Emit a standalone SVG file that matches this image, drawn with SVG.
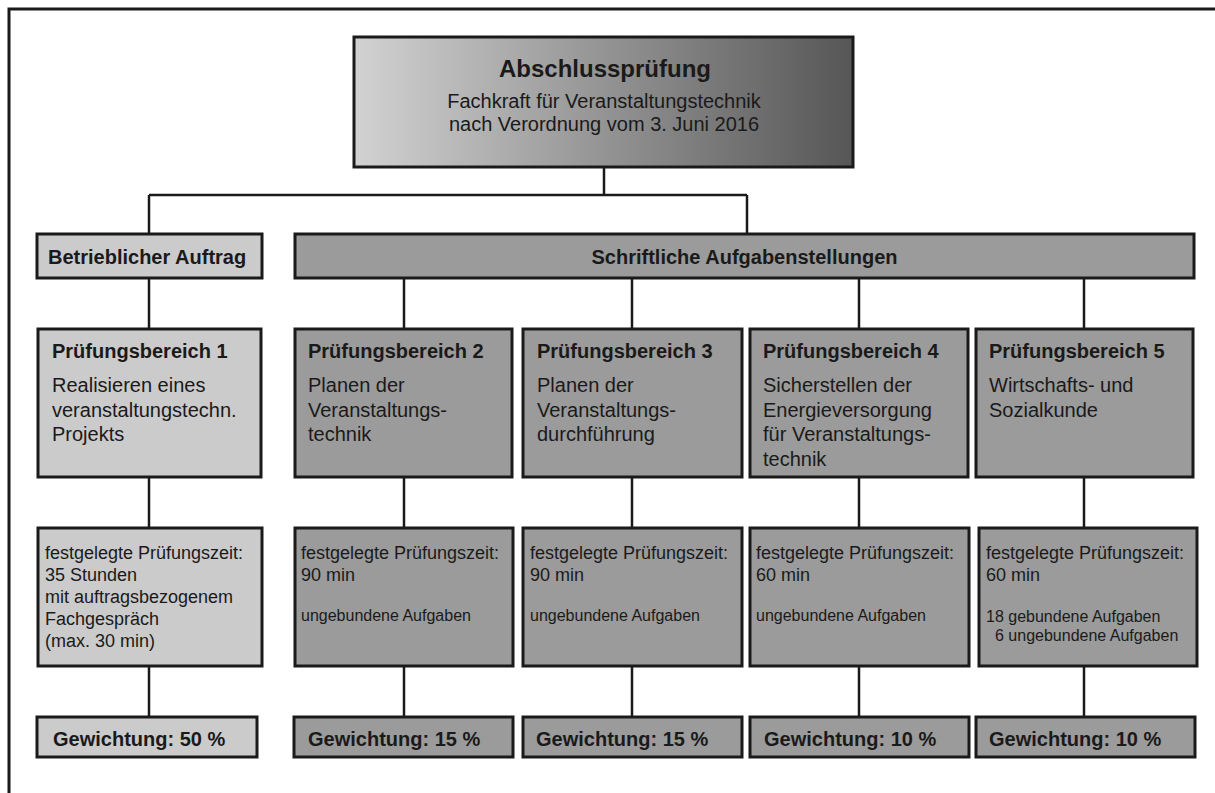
<svg xmlns="http://www.w3.org/2000/svg" width="1215" height="793" viewBox="0 0 1215 793">
<defs>
<linearGradient id="gTitle" x1="0" y1="0" x2="1" y2="0">
<stop offset="0" stop-color="#d2d2d2"/>
<stop offset="1" stop-color="#565656"/>
</linearGradient>
<style>
text{font-family:"Liberation Sans",Arial,Helvetica,sans-serif;fill:#1a1a1a}
.box{stroke:#1a1a1a;stroke-width:3}
.light{fill:#cbcbcb}
.dark{fill:#9b9b9b}
.h{font-weight:bold;font-size:20px}
.b{font-size:20px}
.t{font-size:18px}
.s{font-size:16px}
.mid{text-anchor:middle}
.con{stroke:#1a1a1a;stroke-width:2.5;fill:none}
</style>
</defs>
<rect width="1215" height="793" fill="#fff"/>
<path id="frame" d="M9 793 V9 H1215" fill="none" stroke="#1a1a1a" stroke-width="3"/>

<g id="connectors" class="con">
<path d="M604 167 V195"/>
<path d="M149 195 H747"/>
<path d="M149 195 V234"/>
<path d="M747 195 V234"/>
<path d="M149 278 V329"/>
<path d="M404 278 V329"/>
<path d="M632 278 V329"/>
<path d="M859 278 V329"/>
<path d="M1084 278 V329"/>
<path d="M149 477 V528"/>
<path d="M404 477 V528"/>
<path d="M632 477 V528"/>
<path d="M859 477 V528"/>
<path d="M1084 477 V528"/>
<path d="M149 666 V717"/>
<path d="M404 666 V717"/>
<path d="M632 666 V717"/>
<path d="M859 666 V717"/>
<path d="M1084 666 V717"/>
</g>

<g id="title">
<rect class="box" x="354" y="37" width="499" height="130" fill="url(#gTitle)"/>
<text class="mid" x="605" y="77" font-weight="bold" font-size="24">Abschlussprüfung</text>
<text class="mid b" x="604" y="108">Fachkraft für Veranstaltungstechnik</text>
<text class="mid b" x="604" y="131">nach Verordnung vom 3. Juni 2016</text>
</g>

<g id="betrieblich">
<rect class="box light" x="37" y="234" width="225" height="44"/>
<text class="h" x="48" y="264">Betrieblicher Auftrag</text>
</g>

<g id="schriftlich">
<rect class="box dark" x="295" y="234" width="899" height="44"/>
<text class="h mid" x="744.5" y="264">Schriftliche Aufgabenstellungen</text>
</g>

<g id="pb1">
<rect class="box light" x="38" y="329" width="223" height="148"/>
<text class="h" x="52" y="358">Prüfungsbereich 1</text>
<text class="b" x="52" y="392">Realisieren eines</text>
<text class="b" x="52" y="416.5">veranstaltungstechn.</text>
<text class="b" x="52" y="441">Projekts</text>
</g>

<g id="pb2">
<rect class="box dark" x="295" y="329" width="217" height="148"/>
<text class="h" x="308" y="358">Prüfungsbereich 2</text>
<text class="b" x="308" y="392">Planen der</text>
<text class="b" x="308" y="416.5">Veranstaltungs-</text>
<text class="b" x="308" y="441">technik</text>
</g>

<g id="pb3">
<rect class="box dark" x="523" y="329" width="219" height="148"/>
<text class="h" x="537" y="358">Prüfungsbereich 3</text>
<text class="b" x="537" y="392">Planen der</text>
<text class="b" x="537" y="416.5">Veranstaltungs-</text>
<text class="b" x="537" y="441">durchführung</text>
</g>

<g id="pb4">
<rect class="box dark" x="750" y="329" width="218" height="148"/>
<text class="h" x="763" y="358">Prüfungsbereich 4</text>
<text class="b" x="763" y="392">Sicherstellen der</text>
<text class="b" x="763" y="416.5">Energieversorgung</text>
<text class="b" x="763" y="441">für Veranstaltungs-</text>
<text class="b" x="763" y="465.5">technik</text>
</g>

<g id="pb5">
<rect class="box dark" x="976" y="329" width="217" height="148"/>
<text class="h" x="989" y="358">Prüfungsbereich 5</text>
<text class="b" x="989" y="392">Wirtschafts- und</text>
<text class="b" x="989" y="416.5">Sozialkunde</text>
</g>

<g id="zeit1">
<rect class="box light" x="38" y="528" width="224" height="138"/>
<text class="t" x="45" y="559">festgelegte Prüfungszeit:</text>
<text class="t" x="45" y="581">35 Stunden</text>
<text class="t" x="45" y="603">mit auftragsbezogenem</text>
<text class="t" x="45" y="625">Fachgespräch</text>
<text class="t" x="45" y="647">(max. 30 min)</text>
</g>

<g id="zeit2">
<rect class="box dark" x="295" y="528" width="218" height="138"/>
<text class="t" x="301" y="559">festgelegte Prüfungszeit:</text>
<text class="t" x="301" y="581">90 min</text>
<text class="s" x="301" y="621">ungebundene Aufgaben</text>
</g>

<g id="zeit3">
<rect class="box dark" x="523" y="528" width="219" height="138"/>
<text class="t" x="530" y="559">festgelegte Prüfungszeit:</text>
<text class="t" x="530" y="581">90 min</text>
<text class="s" x="530" y="621">ungebundene Aufgaben</text>
</g>

<g id="zeit4">
<rect class="box dark" x="750" y="528" width="219" height="138"/>
<text class="t" x="756" y="559">festgelegte Prüfungszeit:</text>
<text class="t" x="756" y="581">60 min</text>
<text class="s" x="756" y="621">ungebundene Aufgaben</text>
</g>

<g id="zeit5">
<rect class="box dark" x="979" y="528" width="218" height="138"/>
<text class="t" x="986" y="559">festgelegte Prüfungszeit:</text>
<text class="t" x="986" y="581">60 min</text>
<text class="s" x="986" y="622">18 gebundene Aufgaben</text>
<text class="s" x="995" y="641">6 ungebundene Aufgaben</text>
</g>

<g id="gew1">
<rect class="box light" x="37" y="717" width="220" height="40"/>
<text class="h" x="53" y="746">Gewichtung: 50 %</text>
</g>
<g id="gew2">
<rect class="box dark" x="294" y="717" width="219" height="40"/>
<text class="h" x="308" y="746">Gewichtung: 15 %</text>
</g>
<g id="gew3">
<rect class="box dark" x="523" y="717" width="219" height="40"/>
<text class="h" x="536" y="746">Gewichtung: 15 %</text>
</g>
<g id="gew4">
<rect class="box dark" x="750" y="717" width="219" height="40"/>
<text class="h" x="764" y="746">Gewichtung: 10 %</text>
</g>
<g id="gew5">
<rect class="box dark" x="976" y="717" width="219" height="40"/>
<text class="h" x="989" y="746">Gewichtung: 10 %</text>
</g>
</svg>
